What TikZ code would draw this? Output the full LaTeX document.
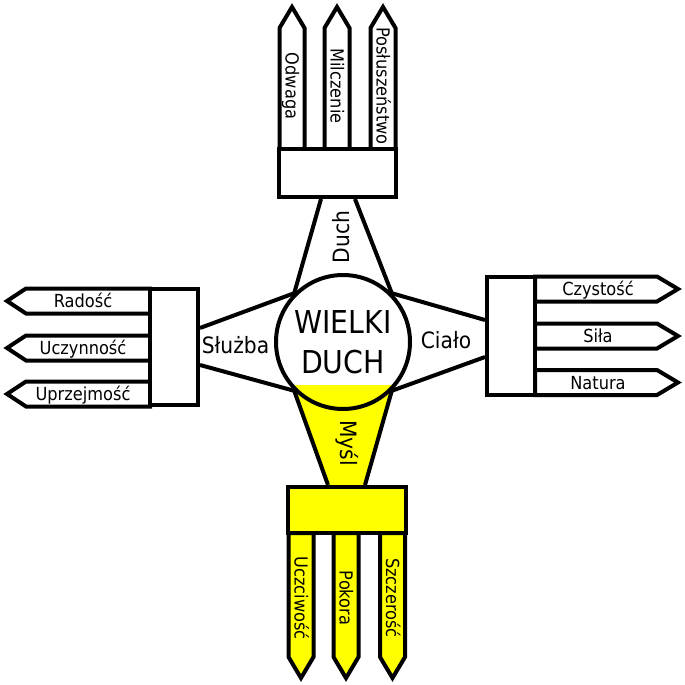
\documentclass[tikz,border=0pt]{standalone}
\usepackage{fontspec}
\setmainfont{DejaVu Sans}[FakeStretch=0.9]
\usetikzlibrary{calc, backgrounds}
\definecolor{sun}{RGB}{255,255,0}

\begin{document}
\begin{tikzpicture}[
    x=1pt, y=-1pt,
    line width=4pt,
    hub/.style={circle, draw, minimum size=134pt, inner sep=0pt, align=center, font=\fontsize{31.5}{40}\selectfont},
    board/.style={rectangle, draw, inner sep=0pt, fill=white},
    sign/.style={draw, fill=white, line join=miter},
    word/.style={font=\fontsize{18}{20}\selectfont, text height=13pt, text depth=0pt, inner sep=0pt},
    armword/.style={font=\fontsize{22.5}{25}\selectfont, inner sep=0pt}
]
\useasboundingbox (0,0) rectangle (685,685);

% arrows of the four arms
\foreach \x/\txt [count=\i] in {292/Odwaga, 337/Milczenie, 383/Posłuszeństwo} {
  \draw[sign] (\x-12.5,149) -- (\x-12.5,28) -- (\x,7) -- (\x+12.5,28) -- (\x+12.5,149) -- cycle;
  \node[word, rotate=-90] (up\i) at (\x,86) {\txt};
}
\foreach \y/\txt [count=\i] in {301/Radość, 348/Uczynność, 394/Uprzejmość} {
  \draw[sign] (150,\y-12.5) -- (26,\y-12.5) -- (7,\y) -- (26,\y+12.5) -- (150,\y+12.5) -- cycle;
  \node[word] (lt\i) at (83,\y) {\txt};
}
\foreach \y/\txt [count=\i] in {289/Czystość, 336/Siła, 382.5/Natura} {
  \draw[sign] (535,\y-12.5) -- (657,\y-12.5) -- (678,\y) -- (657,\y+12.5) -- (535,\y+12.5) -- cycle;
  \node[word] (rt\i) at (598,\y) {\txt};
}
\foreach \x/\txt [count=\i] in {301/Uczciwość, 346/Pokora, 392.5/Szczerość} {
  \draw[sign, fill=sun] (\x-12.5,533) -- (\x-12.5,657) -- (\x,678) -- (\x+12.5,657) -- (\x+12.5,533) -- cycle;
  \node[word, rotate=-90] (dn\i) at (\x,598) {\txt};
}

% boxes and the hub
\node[board, minimum width=117pt, minimum height=48pt] (duch) at (337.5,173) {};
\node[board, minimum width=48pt, minimum height=116pt] (sluzba) at (174,347) {};
\node[board, minimum width=48pt, minimum height=118pt] (cialo) at (511,336) {};
\node[board, fill=sun, minimum width=118pt, minimum height=46pt] (mysl) at (347,510) {};
\node[hub] (wd) at (343,342) {WIELKI\\DUCH};

\begin{scope}[on background layer]
  \fill[sun] (wd.-135) -- ($(mysl.north)+(-19,0)$) -- ($(mysl.north)+(18,0)$) -- (wd.-45) -- cycle;
  \begin{scope}
    \clip (wd.center) circle[radius=67pt];
    \fill[sun] (260,385) rectangle (430,430);
  \end{scope}
\end{scope}

% the four arms
\draw (wd.135) -- ($(duch.south)+(-16.5,0)$);
\draw (wd.45) -- ($(duch.south)+(17.5,0)$);
\draw (wd.135) -- ($(sluzba.east)+(0,-19)$);
\draw (wd.-135) -- ($(sluzba.east)+(0,18)$);
\draw (wd.45) -- ($(cialo.west)+(0,-16)$);
\draw (wd.-45) -- ($(cialo.west)+(0,21)$);
\draw (wd.-135) -- ($(mysl.north)+(-19,0)$);
\draw (wd.-45) -- ($(mysl.north)+(18,0)$);

\node[armword, rotate=90] (tduch) at (341,237) {Duch};
\node[armword, rotate=-90] (tmysl) at (347.5,443) {Myśl};
\node[armword, anchor=base] (tsluzba) at (235.5,353) {Służba};
\node[armword, anchor=base] (tcialo) at (446,348) {Ciało};
\end{tikzpicture}
\end{document}
